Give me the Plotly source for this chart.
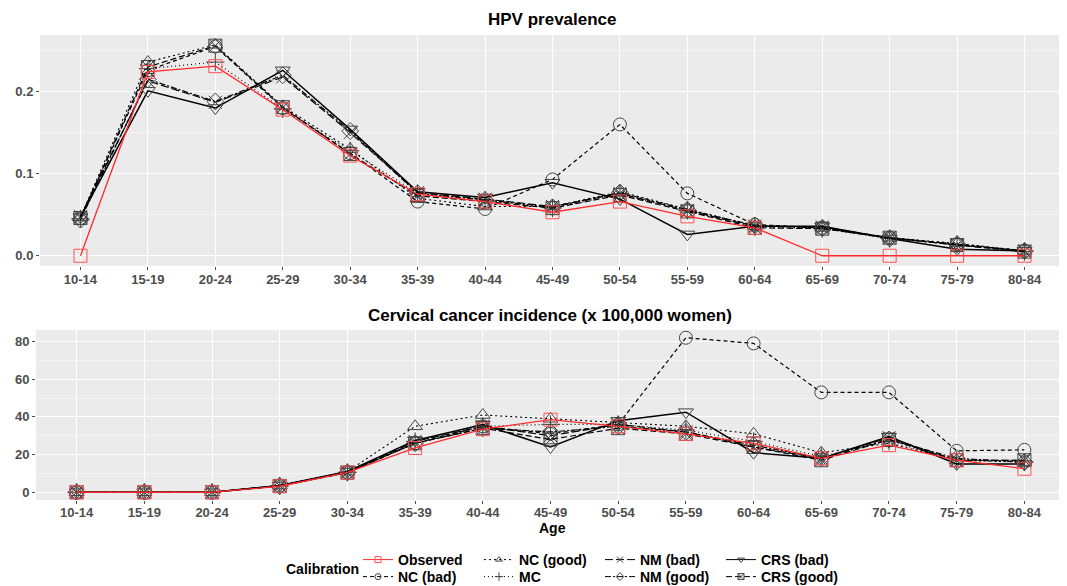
import plotly.graph_objects as go

ages = ["10-14", "15-19", "20-24", "25-29", "30-34", "35-39", "40-44", "45-49",
        "50-54", "55-59", "60-64", "65-69", "70-74", "75-79", "80-84"]

series_names = ["Observed", "NC (bad)", "NC (good)", "MC", "NM (bad)", "NM (good)", "CRS (bad)", "CRS (good)"]

# HPV prevalence
hpv_observed = [0.0, 0.224, 0.231, 0.178, 0.122, 0.075, 0.066, 0.053, 0.066, 0.048, 0.034, 0.0, 0.0, 0.0, 0.0]
hpv_nc_bad = [0.046, 0.226, 0.255, 0.180, 0.125, 0.066, 0.057, 0.093, 0.160, 0.076, 0.038, 0.034, 0.022, 0.014, 0.006]
hpv_nc_good = [0.047, 0.236, 0.257, 0.182, 0.130, 0.070, 0.060, 0.060, 0.078, 0.057, 0.036, 0.034, 0.022, 0.015, 0.006]
hpv_mc = [0.045, 0.228, 0.236, 0.179, 0.128, 0.076, 0.068, 0.058, 0.075, 0.055, 0.035, 0.033, 0.021, 0.014, 0.005]
hpv_nm_bad = [0.048, 0.213, 0.187, 0.218, 0.150, 0.077, 0.069, 0.060, 0.076, 0.055, 0.036, 0.035, 0.022, 0.013, 0.006]
hpv_nm_good = [0.044, 0.215, 0.188, 0.220, 0.152, 0.076, 0.068, 0.059, 0.077, 0.056, 0.037, 0.034, 0.021, 0.014, 0.006]
hpv_crs_bad = [0.047, 0.201, 0.180, 0.226, 0.154, 0.078, 0.071, 0.089, 0.069, 0.026, 0.036, 0.036, 0.021, 0.008, 0.006]
hpv_crs_good = [0.046, 0.230, 0.256, 0.181, 0.124, 0.073, 0.066, 0.058, 0.074, 0.054, 0.034, 0.033, 0.022, 0.013, 0.005]

# Cervical cancer incidence (x 100,000 women)
inc_observed = [0, 0, 0, 3.2, 10.5, 23.5, 33.5, 38.5, 35, 31, 26, 18, 25, 17, 12.5]
inc_nc_bad = [0, 0, 0, 3.5, 10.8, 26, 35, 31, 36, 82, 79, 53, 53, 22, 22.5]
inc_nc_good = [0, 0, 0, 3.6, 11, 35, 41, 39, 37, 35, 31, 21, 26, 17, 16]
inc_mc = [0, 0, 0, 3.4, 10.6, 27, 35, 36, 36, 33, 27, 19, 27, 17, 16]
inc_nm_bad = [0, 0, 0, 3.5, 10.7, 27, 35, 30, 36, 32, 24, 18, 29, 17, 17]
inc_nm_good = [0, 0, 0, 3.3, 10.5, 26, 34, 32, 35, 32, 25, 18, 28, 18, 16]
inc_crs_bad = [0, 0, 0, 3.6, 11, 27.5, 36, 24, 38, 42.5, 21, 18, 29.5, 15, 15]
inc_crs_good = [0, 0, 0, 3.4, 10.4, 26, 34, 28, 34, 31, 24, 17, 28, 17, 17]

hpv = [hpv_observed, hpv_nc_bad, hpv_nc_good, hpv_mc, hpv_nm_bad, hpv_nm_good, hpv_crs_bad, hpv_crs_good]
inc = [inc_observed, inc_nc_bad, inc_nc_good, inc_mc, inc_nm_bad, inc_nm_good, inc_crs_bad, inc_crs_good]

symbols = ["square-open", "circle-open", "triangle-up-open", "cross-thin-open",
           "x-thin-open", "diamond-open", "triangle-down-open", "square-x-open"]
dashes = ["solid", "4px,3px", "2px,3px", "1px,3px", "8px,3px", "6px,2px,2px,2px", "solid", "6px,3px"]
colors = ["#FF2A2A"] + ["#000000"] * 7
mcolors = ["#FF5050"] + ["#444444"] * 7
widths = [1.3, 1.2, 1.1, 1.1, 1.2, 1.2, 1.5, 1.2]
legend_of = ["legend", "legend2", "legend", "legend2", "legend", "legend2", "legend", "legend2"]
ranks = [1, 1, 2, 2, 3, 3, 4, 4]

fig = go.Figure()
order = [1, 2, 3, 4, 5, 6, 7, 0]
for i in order:
    for vals, xa, ya in [(hpv[i], "x", "y"), (inc[i], "x2", "y2")]:
        fig.add_trace(go.Scatter(
            x=ages, y=vals, xaxis=xa, yaxis=ya, mode="lines+markers",
            name=series_names[i], legendgroup=series_names[i], showlegend=False,
            line=dict(color=colors[i], width=widths[i], dash=dashes[i]),
            marker=dict(symbol=symbols[i], size=13, color=mcolors[i],
                        line=dict(color=mcolors[i], width=1)),
        ))

# legend keys (small markers like the ggplot key)
for i in range(len(series_names)):
    fig.add_trace(go.Scatter(
        x=[None], y=[None], xaxis="x", yaxis="y", mode="lines+markers",
        name=series_names[i], legendgroup=series_names[i], showlegend=True,
        legend=legend_of[i], legendrank=ranks[i],
        line=dict(color=colors[i], width=1, dash=dashes[i]),
        marker=dict(symbol=symbols[i], size=6, color=mcolors[i],
                    line=dict(color=mcolors[i], width=1)),
    ))

# The page body has an 8px margin, so the figure is drawn 8px in from the window corner.
OFF = 8
W, H = 1067 - OFF, 586 - OFF


def px(x):
    return (x - OFF) / W


def py(y):
    return 1 - (y - OFF) / H


tickfont = dict(family="Liberation Sans", size=13, color="#4D4D4D", weight="bold")
axis_common = dict(showline=False, zeroline=False, gridcolor="white", gridwidth=1.2,
                   ticks="outside", ticklen=3, tickcolor="#4D4D4D", tickfont=tickfont,
                   automargin=False)

xdom_top = [px(40), px(1065)]
xdom_bot = [px(36), px(1065)]
ydom_top = [py(266), py(35)]
ydom_bot = [py(500), py(330)]

legfont = dict(family="Liberation Sans", size=14, color="black", weight="bold")

fig.update_layout(
    width=W, height=H, margin=dict(l=0, r=0, t=0, b=0, autoexpand=False),
    paper_bgcolor="white", plot_bgcolor="#EBEBEB",
    font=dict(family="Liberation Sans", color="black"),
    xaxis=dict(domain=xdom_top, anchor="y", type="category", categoryorder="array",
               categoryarray=ages, range=[-0.6, 14.6], ticklabelstandoff=-2, **axis_common),
    yaxis=dict(domain=ydom_top, anchor="x", range=[-0.0125, 0.269],
               tickvals=[0.0, 0.1, 0.2], ticktext=["0.0", "0.1", "0.2"],
               minor=dict(tickvals=[0.05, 0.15, 0.25], showgrid=True, gridcolor="#F5F5F5", gridwidth=0.6, ticks=""),
               **axis_common),
    xaxis2=dict(domain=xdom_bot, anchor="y2", type="category", categoryorder="array",
                categoryarray=ages, range=[-0.6, 14.6], ticklabelstandoff=-3, **axis_common),
    yaxis2=dict(domain=ydom_bot, anchor="x2", range=[-4.1, 86.1],
                tickvals=[0, 20, 40, 60, 80],
                minor=dict(tickvals=[10, 30, 50, 70], showgrid=True, gridcolor="#F5F5F5", gridwidth=0.6, ticks=""),
                **axis_common),
    legend=dict(orientation="h", x=px(358), y=py(560), xanchor="left", yanchor="middle",
                entrywidth=76, entrywidthmode="pixels", bgcolor="rgba(0,0,0,0)",
                font=legfont, itemwidth=30),
    legend2=dict(orientation="h", x=px(358), y=py(577), xanchor="left", yanchor="middle",
                 entrywidth=76, entrywidthmode="pixels", bgcolor="rgba(0,0,0,0)",
                 font=legfont, itemwidth=30),
    annotations=[
        dict(text="<b>HPV prevalence</b>", x=px(552), y=py(20), xref="paper", yref="paper",
             showarrow=False, font=dict(size=17, color="black"), xanchor="center", yanchor="middle"),
        dict(text="<b>Cervical cancer incidence (x 100,000 women)</b>", x=px(550), y=py(315),
             xref="paper", yref="paper", showarrow=False, font=dict(size=17, color="black"),
             xanchor="center", yanchor="middle"),
        dict(text="<b>Age</b>", x=px(552), y=py(528), xref="paper", yref="paper",
             showarrow=False, font=dict(size=14, color="black"), xanchor="center", yanchor="middle"),
        dict(text="<b>Calibration</b>", x=px(284), y=py(569), xref="paper", yref="paper",
             showarrow=False, font=dict(size=14, color="black"), xanchor="left", yanchor="middle"),
    ],
)

fig.write_html("out.html")
